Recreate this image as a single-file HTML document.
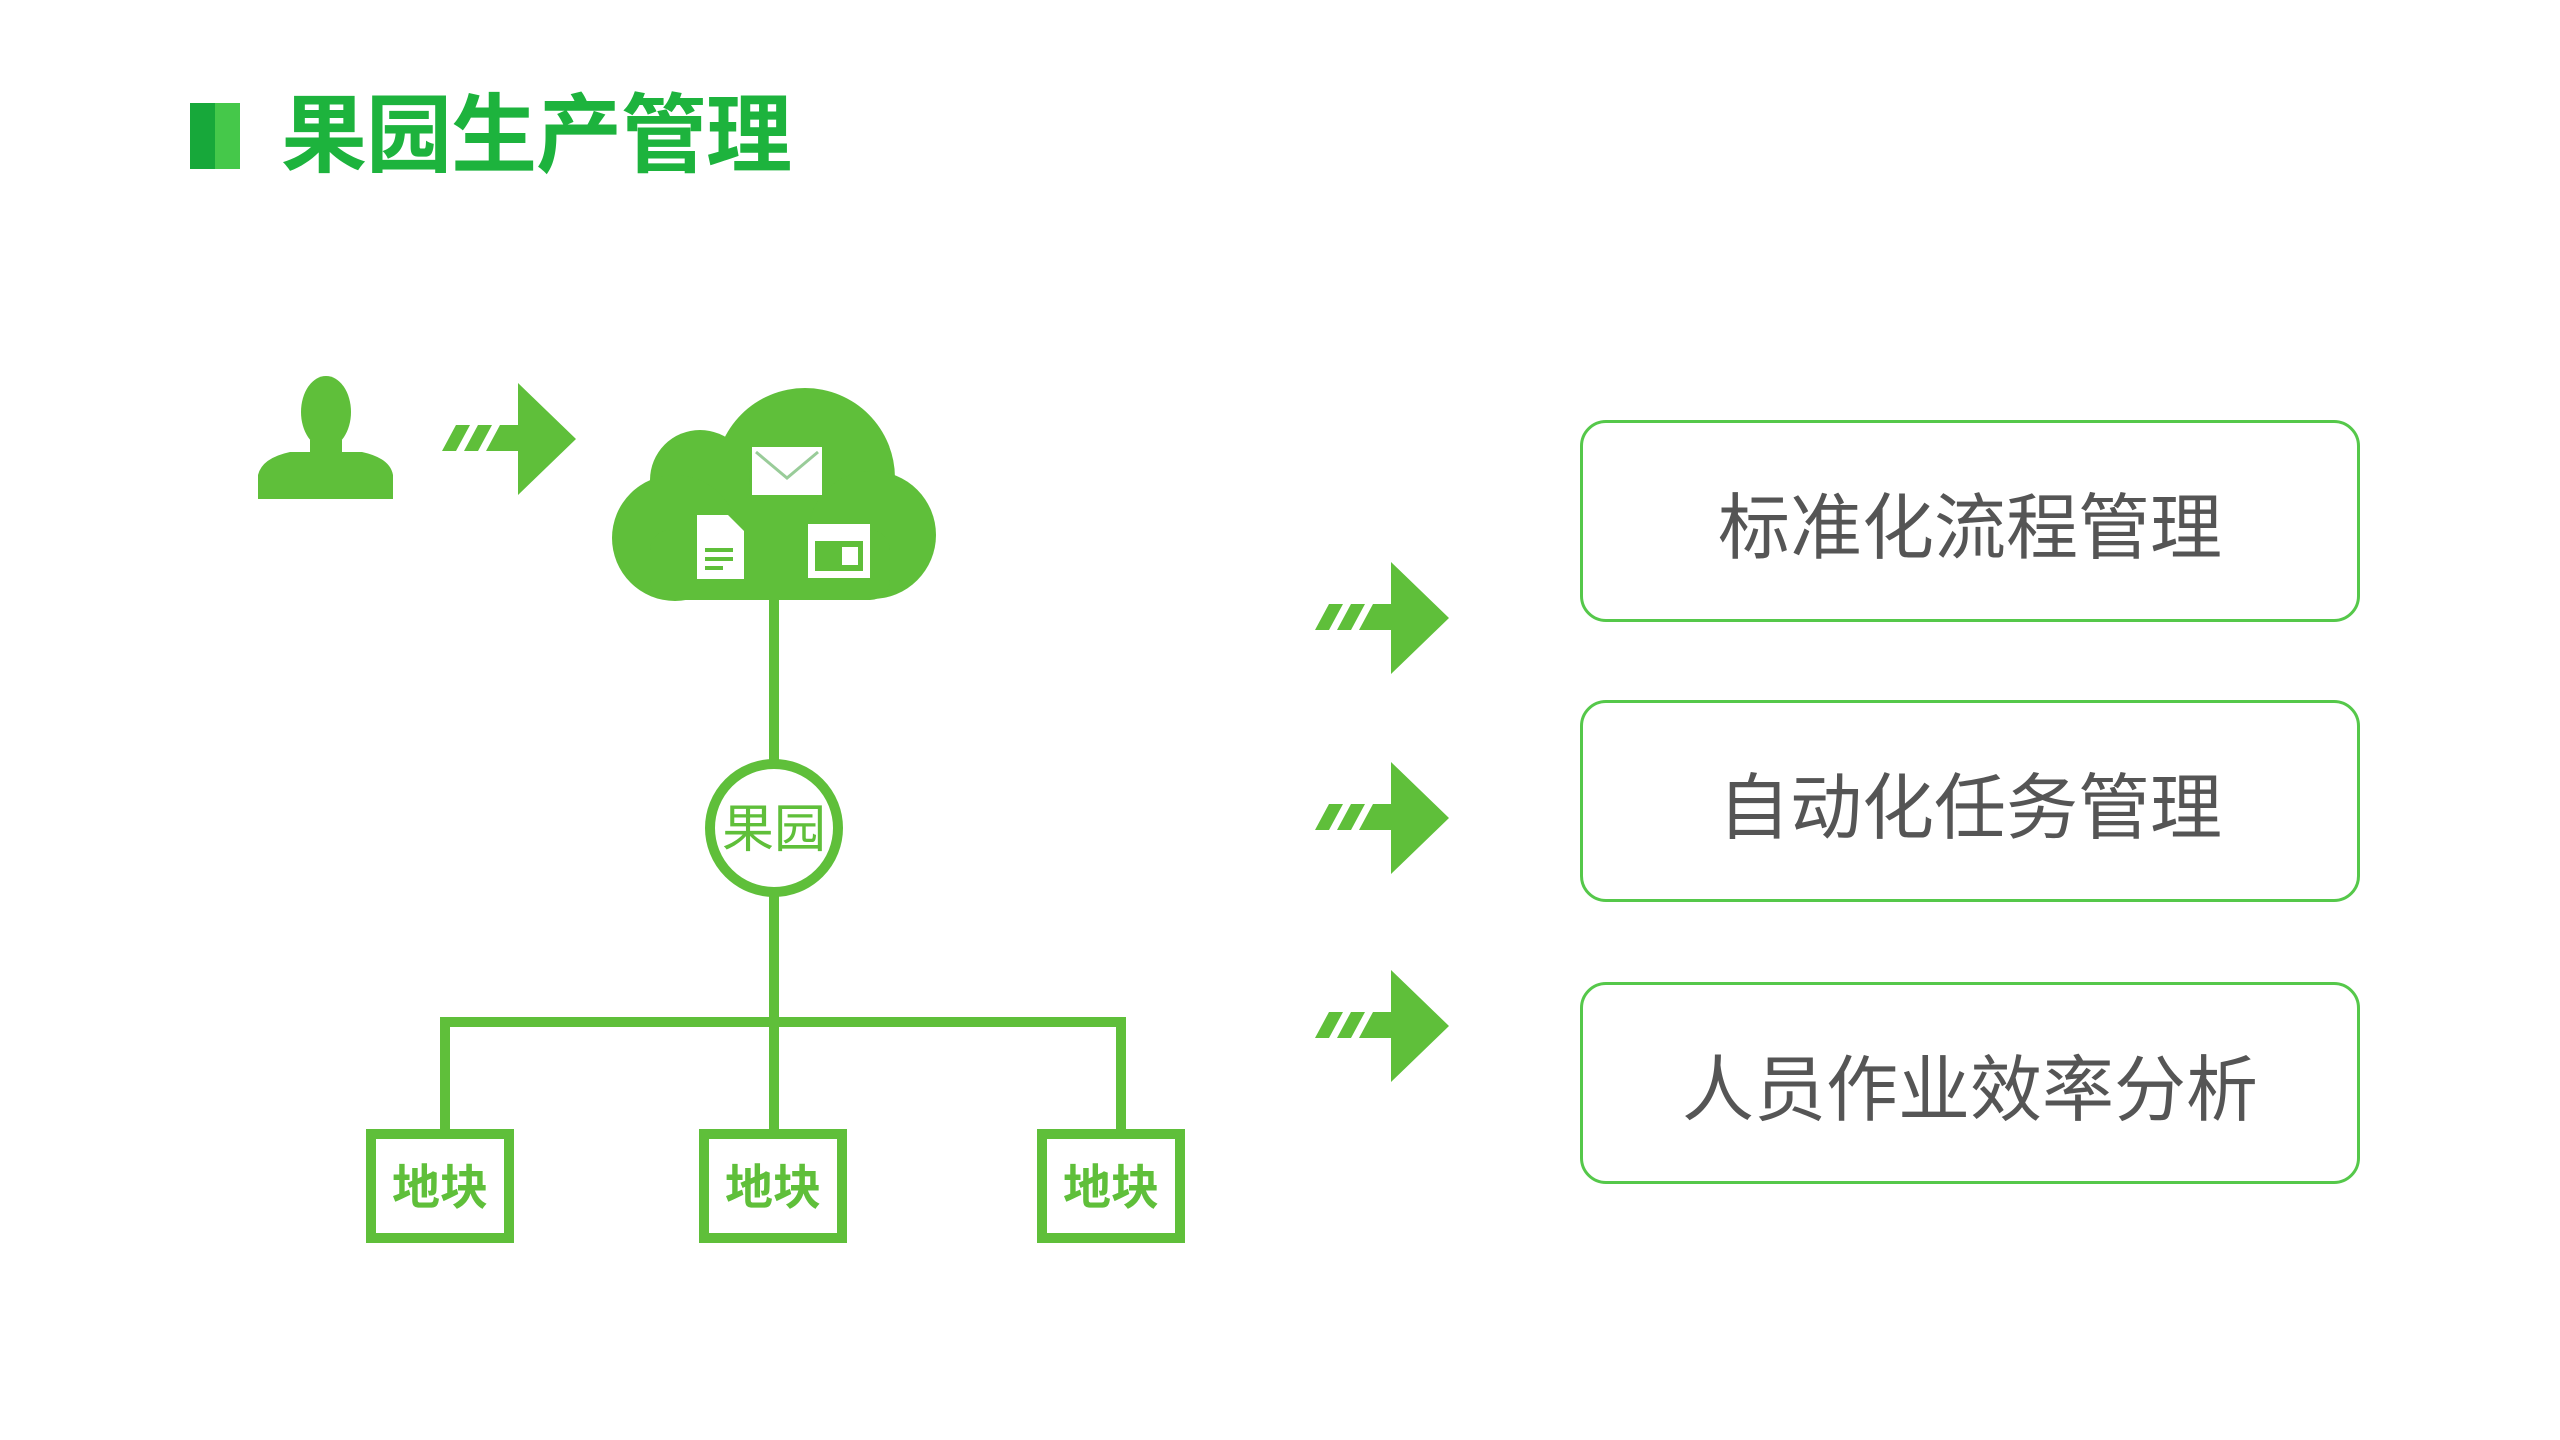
<!DOCTYPE html>
<html><head><meta charset="utf-8"><style>
html,body{margin:0;padding:0;background:#fff;}
body{width:2560px;height:1440px;position:relative;overflow:hidden;font-family:"Liberation Sans","Noto Sans CJK SC",sans-serif;}
.bar{position:absolute;left:190px;top:103px;width:50px;height:66px;background:linear-gradient(90deg,#17a83a 0 50%,#45c84a 50% 100%);}
.title{position:absolute;left:281px;top:86px;font-size:86px;font-weight:bold;color:#1db33d;line-height:100px;letter-spacing:-1px;}
.box{position:absolute;left:1580px;width:774px;border:3px solid #55c84a;border-radius:26px;display:flex;align-items:center;justify-content:center;font-size:72px;color:#555;}
</style></head><body>
<div class="bar"></div>
<div class="title">果园生产管理</div>
<svg width="2560" height="1440" style="position:absolute;left:0;top:0">
<defs>
<g id="arr">
<polygon points="0,68 14,42 28,42 14,68" fill="#5fbf3a"/>
<polygon points="22,68 36,42 50,42 36,68" fill="#5fbf3a"/>
<polygon points="44,68 58,42 76,42 76,0 134,56 76,112 76,68" fill="#5fbf3a"/>
</g>
</defs>
<g fill="#5fbf3a">
<ellipse cx="326" cy="412" rx="25" ry="36"/>
<rect x="310" y="440" width="32" height="20"/>
<path d="M258 499 L258 475 Q262 458 290 452 L362 452 Q390 458 393 475 L393 499 Z"/>
</g>
<use href="#arr" x="442" y="383"/>
<g fill="#5fbf3a">
<circle cx="805" cy="478" r="90"/>
<circle cx="700" cy="480" r="50"/>
<circle cx="675" cy="538" r="63"/>
<circle cx="872" cy="535" r="64"/>
<rect x="650" y="530" width="240" height="70" rx="20"/>
</g>
<rect x="752" y="447" width="70" height="48" fill="#fff"/>
<polyline points="756,452 787,478 818,452" fill="none" stroke="#9c9" stroke-width="3"/>
<path d="M697 515 L728 515 L744 531 L744 579 L697 579 Z" fill="#fff"/>
<rect x="705" y="548" width="28" height="4" fill="#5fbf3a"/><rect x="705" y="557" width="28" height="4" fill="#5fbf3a"/><rect x="705" y="566" width="18" height="4" fill="#5fbf3a"/>
<rect x="808" y="524" width="62" height="54" fill="#fff"/>
<rect x="815" y="541" width="48" height="30" fill="#5fbf3a"/>
<rect x="842" y="547" width="16" height="18" fill="#fff"/>
<g stroke="#5fbf3a" stroke-width="10" fill="none">
<line x1="774" y1="598" x2="774" y2="760"/>
<circle cx="774" cy="828" r="64"/>
<line x1="774" y1="896" x2="774" y2="1130"/>
<polyline points="445,1130 445,1022 1121,1022 1121,1130"/>
<rect x="371" y="1134" width="138" height="104"/>
<rect x="704" y="1134" width="138" height="104"/>
<rect x="1042" y="1134" width="138" height="104"/>
</g>
<g font-family="Liberation Sans,Noto Sans CJK SC,sans-serif" fill="#5fbf3a" text-anchor="middle" font-weight="bold">
<text x="774" y="847" font-size="52" font-weight="normal">果园</text>
<text x="440" y="1204" font-size="48">地块</text>
<text x="773" y="1204" font-size="48">地块</text>
<text x="1111" y="1204" font-size="48">地块</text>
</g>
<use href="#arr" x="1315" y="562"/>
<use href="#arr" x="1315" y="762"/>
<use href="#arr" x="1315" y="970"/>
</svg>
<div class="box" style="top:420px;height:196px;">标准化流程管理</div>
<div class="box" style="top:700px;height:196px;">自动化任务管理</div>
<div class="box" style="top:982px;height:196px;">人员作业效率分析</div>
</body></html>
